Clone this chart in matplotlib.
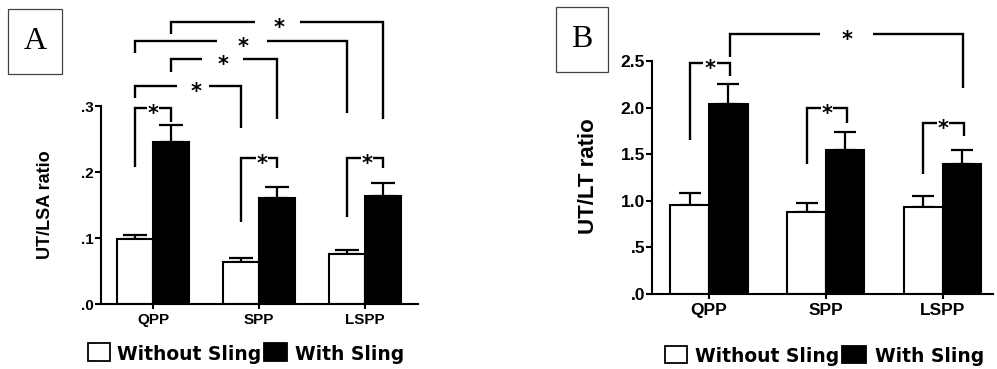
import numpy as np
import matplotlib
matplotlib.use('Agg')
import matplotlib.pyplot as plt
from matplotlib.patches import Rectangle

plt.rcParams['font.family'] = ['Liberation Sans', 'DejaVu Sans']

# data
groups = ['QPP', 'SPP', 'LSPP']
series = ['Without Sling', 'With Sling']

lsa_without = [0.099, 0.064, 0.076]
lsa_without_err = [0.006, 0.006, 0.006]
lsa_with = [0.246, 0.160, 0.163]
lsa_with_err = [0.025, 0.017, 0.020]

lt_without = [0.96, 0.88, 0.93]
lt_without_err = [0.12, 0.10, 0.12]
lt_with = [2.04, 1.54, 1.40]
lt_with_err = [0.21, 0.20, 0.14]

lsa_ticks = [0.0, 0.1, 0.2, 0.3]
lsa_ticklabels = ['.0', '.1', '.2', '.3']
lt_ticks = [0.0, 0.5, 1.0, 1.5, 2.0, 2.5]
lt_ticklabels = ['.0', '.5', '1.0', '1.5', '2.0', '2.5']

W, H = 997, 369
fig = plt.figure(figsize=(W / 100, H / 100), dpi=100)


def fx(px):
    return px / W


def fy(py):
    return 1 - py / H


def bars(ax, without, without_err, with_, with_err, width, capsize):
    x = np.arange(len(groups))
    ax.bar(x - width / 2, without, width, color='white', edgecolor='black', linewidth=1.5, zorder=2)
    ax.bar(x + width / 2, with_, width, color='black', edgecolor='black', linewidth=1.5, zorder=2)
    ax.errorbar(x - width / 2, without, yerr=[np.zeros(3), without_err], fmt='none',
                ecolor='black', elinewidth=1.6, capsize=capsize, capthick=1.6, zorder=1)
    ax.errorbar(x + width / 2, with_, yerr=[np.zeros(3), with_err], fmt='none',
                ecolor='black', elinewidth=1.6, capsize=capsize, capthick=1.6, zorder=1)


def bracket(ax, x1, x2, yl, ytop, yr, xs, g1, g2, fs=15):
    kw = dict(color='black', lw=1.7, clip_on=False, solid_capstyle='butt',
              solid_joinstyle='miter')
    ax.plot([x1, x1, g1], [yl, ytop, ytop], **kw)
    ax.plot([g2, x2, x2], [ytop, ytop, yr], **kw)
    ax.annotate('*', (xs, ytop), xytext=(0, -8.6), textcoords='offset points',
                ha='center', va='baseline', fontsize=fs, fontweight='bold',
                family='DejaVu Sans', annotation_clip=False)


def style(ax, ticks, ticklabels, ylim, xlim, fs_y, fs_x):
    for s in ['top', 'right']:
        ax.spines[s].set_visible(False)
    for s in ['left', 'bottom']:
        ax.spines[s].set_linewidth(1.5)
    ax.set_ylim(ylim)
    ax.set_xlim(xlim)
    ax.set_yticks(ticks)
    ax.set_yticklabels(ticklabels, fontsize=fs_y, fontweight='bold')
    ax.set_xticks(np.arange(len(groups)))
    ax.set_xticklabels(groups, fontsize=fs_x, fontweight='bold')
    ax.tick_params(axis='y', length=4, width=1.5, pad=1)
    ax.tick_params(axis='x', length=3.5, width=1.5, pad=3)


def legend(x_white, x_black, top, bottom, baseline, tx1, tx2):
    for x0, fc in [(x_white, 'white'), (x_black, 'black')]:
        fig.patches.append(Rectangle((fx(x0[0]), fy(bottom)), fx(x0[1] - x0[0]), (bottom - top) / H,
                                     transform=fig.transFigure, facecolor=fc,
                                     edgecolor='black', linewidth=1.3))
    fig.text(fx(tx1), fy(baseline), series[0], fontsize=13.5, fontweight='bold',
             family='DejaVu Sans', va='baseline', ha='left')
    fig.text(fx(tx2), fy(baseline), series[1], fontsize=13.5, fontweight='bold',
             family='DejaVu Sans', va='baseline', ha='left')


def label_box(x0, x1, y0, y1, letter):
    fig.patches.append(Rectangle((fx(x0), fy(y1)), fx(x1 - x0), (y1 - y0) / H,
                                 transform=fig.transFigure, facecolor='white',
                                 edgecolor='#444444', linewidth=0.9))
    fig.text(fx((x0 + x1) / 2), fy((y0 + y1) / 2), letter, family='Liberation Serif',
             fontsize=23, ha='center', va='center')


# panel A
axA = fig.add_axes([fx(101), fy(304), fx(317), 198 / H])
bars(axA, lsa_without, lsa_without_err, lsa_with, lsa_with_err, 0.34, 8.5)
style(axA, lsa_ticks, lsa_ticklabels, (0, 0.3), (-0.49, 2.5), 11, 11)
axA.set_ylabel('UT/LSA ratio', fontsize=13, fontweight='bold')
axA.yaxis.set_label_coords(-0.148, 0.5)

bracket(axA, -0.17, 0.17, 0.2076, 0.297, 0.276, 0.0, -0.06, 0.06)
bracket(axA, -0.17, 0.83, 0.312, 0.330, 0.267, 0.405, 0.226, 0.528)
bracket(axA, 0.17, 1.17, 0.3515, 0.371, 0.280, 0.66, 0.459, 0.852)
bracket(axA, -0.17, 1.83, 0.380, 0.398, 0.289, 0.85, 0.601, 1.073)
bracket(axA, 0.17, 2.17, 0.409, 0.427, 0.280, 1.19, 0.962, 1.387)
bracket(axA, 0.83, 1.17, 0.124, 0.221, 0.206, 1.03, 0.972, 1.085)
bracket(axA, 1.83, 2.17, 0.132, 0.221, 0.206, 2.02, 1.962, 2.075)

legend((88, 110), (264, 287), 343, 361, 360, 117, 295)
label_box(8, 62, 9, 74, 'A')

# panel B
axB = fig.add_axes([fx(652), fy(294), fx(341), 233 / H])
bars(axB, lt_without, lt_without_err, lt_with, lt_with_err, 0.33, 8)
style(axB, lt_ticks, lt_ticklabels, (0, 2.5), (-0.487, 2.43), 12.5, 12.5)
axB.set_ylabel('UT/LT ratio', fontsize=16, fontweight='bold')
axB.yaxis.set_label_coords(-0.154, 0.504)

bracket(axB, -0.165, 0.18, 1.652, 2.479, 2.339, 0.01, -0.05, 0.07)
bracket(axB, 0.18, 2.17, 2.543, 2.79, 2.21, 1.18, 0.949, 1.402)
bracket(axB, 0.835, 1.18, 1.395, 1.996, 1.835, 1.01, 0.957, 1.06)
bracket(axB, 1.835, 2.18, 1.288, 1.835, 1.695, 2.0, 1.95, 2.05)

legend((665, 687), (842, 866), 346, 363, 362, 695, 875)
label_box(556, 608, 7, 72, 'B')

fig.savefig('out.png', dpi=100, facecolor='white')
